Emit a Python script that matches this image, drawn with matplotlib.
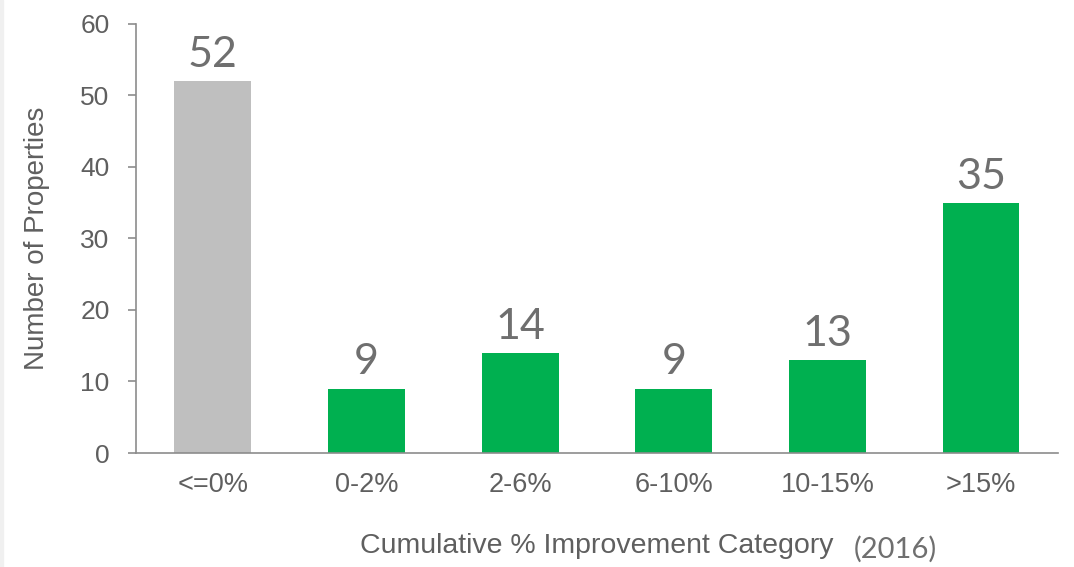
import matplotlib.pyplot as plt
from matplotlib.patches import Rectangle

categories = ['<=0%', '0-2%', '2-6%', '6-10%', '10-15%', '>15%']
counts = [52, 9, 14, 9, 13, 35]
bar_colors = ['#bfbfbf', '#00b050', '#00b050', '#00b050', '#00b050', '#00b050']

plt.rcParams['font.family'] = ['Liberation Sans', 'DejaVu Sans']

fig = plt.figure(figsize=(10.74, 5.67), dpi=100)
# thin gray strip along the left edge of the slide
fig.patches.append(Rectangle((0, 0), 0.003, 1, transform=fig.transFigure,
                             color='#f0f0f0', zorder=0))
ax = fig.add_axes([0.1266, 0.201, 0.8584, 0.757])

x = range(len(categories))
ax.bar(x, counts, width=0.5, color=bar_colors)

# value labels above each bar
for i, c in zip(x, counts):
    ax.text(i, c + 1.0, str(c), ha='center', va='bottom', fontsize=31,
            color='#6f6f6f', family=['Lato', 'DejaVu Sans'])

axis_gray = '#8c8c8c'
ax.set_xlim(-0.5, 5.5)
ax.set_ylim(0, 60)
ax.set_yticks(range(0, 61, 10))
ax.set_xticks(list(x))
ax.set_xticklabels(categories)

for side in ['top', 'right']:
    ax.spines[side].set_visible(False)
ax.spines['left'].set_color(axis_gray)
ax.spines['bottom'].set_color(axis_gray)
ax.spines['left'].set_linewidth(1.2)
ax.spines['bottom'].set_linewidth(1.2)

ax.tick_params(axis='y', colors=axis_gray, labelcolor='#5f5f5f', labelsize=19,
               length=6, width=1.2, pad=13)
ax.tick_params(axis='x', length=0, labelcolor='#5f5f5f', labelsize=19.5, pad=14)

ax.set_ylabel('Number of Properties', fontsize=20, color='#5f5f5f', labelpad=22)
ax.set_xlabel('Cumulative % Improvement Category', fontsize=20.5, color='#5f5f5f',
              labelpad=25)
fig.text(0.795, 0.017, '(2016)', fontsize=21, color='#6f6f6f',
         family=['Lato', 'DejaVu Sans'], va='baseline')

fig.savefig('out.png', dpi=100)
